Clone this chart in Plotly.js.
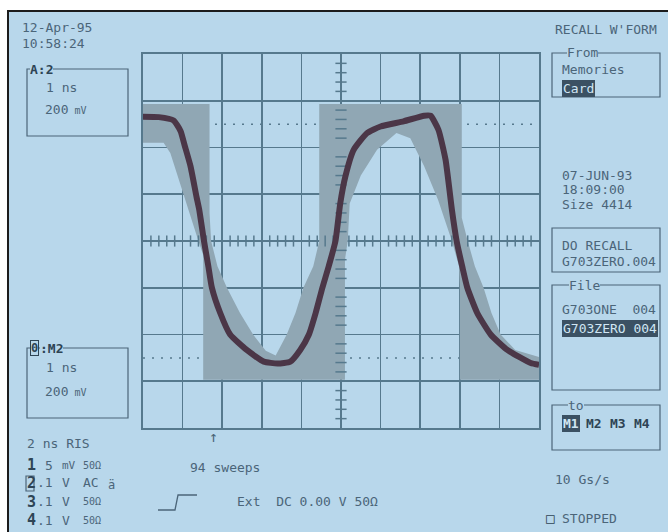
<!DOCTYPE html>
<html>
<head>
<meta charset="utf-8">
<script src="https://cdn.plot.ly/plotly-3.0.1.min.js"></script>
<style>
  html, body { margin: 0; padding: 0; background: #ffffff; width: 668px; height: 532px; overflow: hidden; }
  #frame { position: absolute; left: 7px; top: 10px; border-left: 2px solid #1c1c1c; border-top: 2px solid #1c1c1c; }
  #plot { width: 659px; height: 520px; }
</style>
</head>
<body>
<div id="frame"><div id="plot"></div></div>
<script>
// ---------------- DATA (divisions: x 0..10 at 1 ns/div, y -4..4 at 200 mV/div) ----------------
const timeDiv = [0, 0.4, 0.77, 0.95, 1.05, 1.2, 1.35, 1.42, 1.54, 1.65, 1.74, 1.95, 2.2, 2.62, 3.05, 3.4, 3.72, 3.97, 4.19, 4.36, 4.53, 4.69, 4.86, 4.98, 5.11, 5.32, 5.66, 6.0, 6.58, 7.1, 7.26, 7.46, 7.64, 7.8, 7.92, 8.06, 8.19, 8.44, 8.78, 9.2, 9.79, 10];
const signalDiv = [2.66, 2.65, 2.58, 2.35, 2.05, 1.6, 0.95, 0.67, 0, -0.54, -1, -1.54, -2, -2.33, -2.58, -2.62, -2.58, -2.33, -2, -1.54, -1, -0.54, 0, 0.8, 1.38, 1.95, 2.31, 2.45, 2.56, 2.68, 2.68, 2.38, 1.74, 0.67, 0, -0.54, -1, -1.54, -2, -2.33, -2.61, -2.65];

const envUpperX = [0, 1.68, 1.68, 1.72, 1.88, 2.12, 2.45, 2.78, 3.1, 3.35, 3.63, 3.85, 4.05, 4.3, 4.45, 4.45, 8.05, 8.05, 8.2, 8.38, 8.6, 8.8, 9.03, 9.4, 10];
const envUpperY = [2.93, 2.93, 0.6, 0, -0.54, -1, -1.54, -2, -2.35, -2.45, -2, -1.54, -1, -0.54, 0, 2.93, 2.93, 0.5, 0, -0.54, -1, -1.54, -2, -2.33, -2.48];
const envLowerX = [0, 0.52, 0.69, 0.94, 1.15, 1.4, 1.52, 1.52, 5.1, 5.1, 5.17, 5.22, 5.5, 5.91, 6.4, 6.75, 7.1, 7.45, 7.8, 7.98, 8.0, 8.0, 10];
const envLowerY = [2.1, 2.1, 1.88, 1.24, 0.67, 0, -0.3, -2.97, -2.97, -0.4, 0, 0.8, 1.4, 1.95, 2.31, 2.2, 1.6, 0.88, 0, -0.54, -1, -2.97, -2.97];

const refLevels = [2.5, -2.5];

// screen texts
const dateText = "12-Apr-95", timeText = "10:58:24";
const chanA = "A:2", chanATime = "1 ns", chanAVolt = "200";
const chanM = ":M2", chanMTime = "1 ns", chanMVolt = "200";
const risText = "2 ns RIS";
const chNums = ["1", "2", "3", "4"];
const chScale = ["5", ".1", ".1", ".1"];
const chUnit = ["mV", "V", "V", "V"];
const chCoupling = ["50Ω", "AC", "50Ω", "50Ω"];
const sweepsText = "94 sweeps";
const trigText = "Ext  DC 0.00 V 50Ω";
const menuTitle = "RECALL W'FORM";
const fromLabel = "From", fromItems = ["Memories", "Card"];
const fileDate = ["07-JUN-93", "18:09:00", "Size 4414"];
const doRecall = ["DO RECALL", "G703ZERO.004"];
const fileLabel = "File", fileItems = ["G703ONE  004", "G703ZERO 004"];
const toLabel = "to", toItems = ["M1", "M2", "M3", "M4"];
const rateText = "10 Gs/s", stateText = "STOPPED";

// ---------------- STYLE ----------------
const BG = "#b8d7eb", GRID = "#56798d", TXT = "#4b6579", DARK = "#2e4455", TRACE = "#4b3647", ENV = "#90a7b4";
const FONT = "DejaVu Sans Mono, Liberation Mono, monospace";
const OX = 9, OY = 12;          // page offset of plot div
const L = 134, T = 42, R = 129, B = 104, W = 396, H = 374;
const px = p => (p - OX - L) / W;
const py = p => 1 - (p - OY - T) / H;

function txt(text, x, y, o) {
  o = o || {};
  return {
    xref: "paper", yref: "paper", x: px(x), y: py(y), xanchor: o.anchor || "left", yanchor: "middle",
    text: text, showarrow: false, borderpad: o.pad !== undefined ? o.pad : 0,
    bgcolor: o.bg || "rgba(0,0,0,0)", bordercolor: o.bc || "rgba(0,0,0,0)", borderwidth: o.bw || 0,
    font: { family: FONT, size: o.size || 13, color: o.color || TXT, weight: o.weight || "normal" }
  };
}
function box(x0, y0, x1, y1) {
  return { type: "rect", xref: "paper", yref: "paper", x0: px(x0), x1: px(x1), y0: py(y0), y1: py(y1),
           line: { color: TXT, width: 1.2 }, fillcolor: "rgba(0,0,0,0)" };
}

// ---------------- TRACES ----------------
const envPolyX = envUpperX.concat(envLowerX.slice().reverse());
const envPolyY = envUpperY.concat(envLowerY.slice().reverse());

const tickHX = [], tickHY = [], tickVX = [], tickVY = [];
for (let k = 0; k <= 50; k++) { if (k % 5) { tickHX.push(k / 5); tickHY.push(0); } }
for (let k = -20; k <= 20; k++) { if (k % 5) { tickVX.push(5); tickVY.push(k / 5); } }

const data = [
  { x: envPolyX, y: envPolyY, type: "scatter", mode: "lines", fill: "toself", fillcolor: ENV,
    line: { width: 0, color: ENV }, hoverinfo: "skip" },
  { x: tickHX, y: tickHY, type: "scatter", mode: "markers", hoverinfo: "skip",
    marker: { symbol: "line-ns", size: 8, line: { width: 1.5, color: GRID } } },
  { x: tickVX, y: tickVY, type: "scatter", mode: "markers", hoverinfo: "skip",
    marker: { symbol: "line-ew", size: 8, line: { width: 1.5, color: GRID } } },
  { x: timeDiv, y: signalDiv, type: "scatter", mode: "lines", hoverinfo: "skip",
    line: { color: TRACE, width: 6, shape: "spline", smoothing: 0.5 } }
];

// ---------------- LAYOUT ----------------
const shapes = [];
refLevels.forEach(v => shapes.push({ type: "line", xref: "x", yref: "y", x0: 0, x1: 10, y0: v, y1: v,
  layer: "below", line: { color: GRID, width: 1.5, dash: "2px,7px" } }));
shapes.push(box(27, 69, 128, 136));
shapes.push(box(27, 348, 128, 418));
shapes.push(box(552, 53, 660, 97));
shapes.push(box(552, 228, 660, 272));
shapes.push(box(552, 285, 660, 390));
shapes.push(box(552, 405, 660, 450));
// trigger slope symbol
shapes.push({ type: "path", xref: "paper", yref: "paper",
  path: `M${px(158)},${py(510)} L${px(175)},${py(510)} L${px(178)},${py(495)} L${px(197)},${py(495)}`,
  line: { color: TXT, width: 1.3 } });
// channel 2 box
shapes.push(box(26, 476, 34, 491));

const ann = [];
ann.push(txt(dateText, 22, 28));
ann.push(txt(timeText, 22, 43));
ann.push(txt(chanA, 30, 69, { bg: BG, color: DARK, weight: "bold", size: 13 }));
ann.push(txt(chanATime, 46, 87));
ann.push(txt(chanAVolt + "<span style='font-size:10px'> mV</span>", 45, 109));
ann.push(txt("0", 30, 348, { bg: BG, color: DARK, weight: "bold", size: 12, bc: DARK, bw: 1 }));
ann.push(txt(chanM, 40, 348, { bg: BG, color: DARK, weight: "bold", size: 13 }));
ann.push(txt(chanMTime, 46, 367));
ann.push(txt(chanMVolt + "<span style='font-size:10px'> mV</span>", 45, 391));
ann.push(txt(risText, 27, 443));
const rowY = [465, 483, 502, 520];
for (let i = 0; i < 4; i++) {
  ann.push(txt(chNums[i], 27, rowY[i], { color: DARK, weight: "bold", size: 15 }));
  ann.push(txt(chScale[i], i === 0 ? 45 : 37, rowY[i]));
  ann.push(txt(chUnit[i], 62, rowY[i], { size: chUnit[i] === "mV" ? 11 : 13 }));
  ann.push(txt(chCoupling[i], 83, rowY[i], { size: chCoupling[i] === "AC" ? 13 : 10 }));
}
ann.push(txt("ä", 108, 485, { size: 12 }));
ann.push(txt(sweepsText, 190, 467));
ann.push(txt(trigText, 237, 502));
ann.push(txt("↑", 213, 437, { anchor: "center", size: 15 }));

ann.push(txt(menuTitle, 555, 30));
ann.push(txt(fromLabel, 567, 53, { bg: BG }));
ann.push(txt(fromItems[0], 562, 70));
ann.push(txt(fromItems[1], 562, 88, { bg: "#3b5163", color: "#d0e6f4", pad: 1 }));
fileDate.forEach((s, i) => ann.push(txt(s, 562, [175, 189, 204][i])));
ann.push(txt(doRecall[0], 562, 245));
ann.push(txt(doRecall[1], 562, 261));
ann.push(txt(fileLabel, 569, 285, { bg: BG }));
ann.push(txt(fileItems[0], 562, 309));
ann.push(txt(fileItems[1], 562, 328, { bg: "#3b5163", color: "#d0e6f4", pad: 1 }));
ann.push(txt(toLabel, 568, 405, { bg: BG }));
const toX = [562, 586, 610, 634];
toItems.forEach((s, i) => ann.push(txt(s, toX[i], 423, i === 0
  ? { bg: "#3b5163", color: "#d0e6f4", weight: "bold", pad: 1 }
  : { color: DARK, weight: "bold" })));
ann.push(txt(rateText, 555, 480));
ann.push(txt("□", 546, 518, { size: 14, color: DARK }));
ann.push(txt(stateText, 562, 518));

const axisCommon = { showgrid: true, gridcolor: GRID, gridwidth: 1.6, zeroline: false, showticklabels: false,
  ticks: "", showline: true, linecolor: GRID, linewidth: 1.6, mirror: true, fixedrange: true };

const layout = {
  width: 659, height: 520,
  margin: { l: L, r: R, t: T, b: B, pad: 0 },
  paper_bgcolor: BG, plot_bgcolor: BG,
  showlegend: false,
  xaxis: Object.assign({ range: [0, 10], dtick: 1, tick0: 0 }, axisCommon),
  yaxis: Object.assign({ range: [-4, 4], dtick: 1, tick0: 0 }, axisCommon),
  shapes: shapes,
  annotations: ann
};

Plotly.newPlot("plot", data, layout, { displayModeBar: false, staticPlot: true });
</script>
</body>
</html>
